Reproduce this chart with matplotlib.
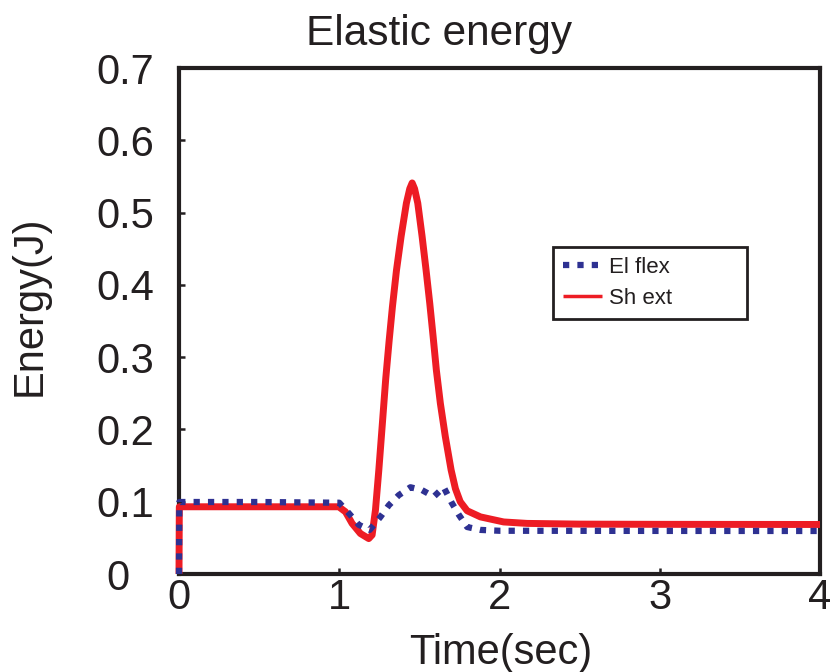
import matplotlib
matplotlib.use('Agg')
import matplotlib.pyplot as plt
from matplotlib.transforms import ScaledTranslation

plt.rcParams['font.family'] = ['Liberation Sans', 'DejaVu Sans']

INK = '#231f20'
RED = '#ed1c24'
BLUE = '#2e3192'

# shoulder extensor energy (J) over time (s)
t_sh = [0.0, 0.002, 0.5, 0.997, 1.039, 1.08, 1.132, 1.184, 1.205, 1.226, 1.247,
        1.268, 1.29, 1.311, 1.332, 1.357, 1.386, 1.419, 1.44, 1.455,
        1.47, 1.49, 1.517, 1.542, 1.565, 1.586, 1.606, 1.631, 1.662, 1.698,
        1.725, 1.755, 1.798, 1.881, 2.026, 2.172, 2.5, 3.0, 4.0]
e_sh = [0.0, 0.093, 0.093, 0.093, 0.086, 0.070, 0.056, 0.049, 0.054, 0.0885, 0.144,
        0.205, 0.27, 0.322, 0.370, 0.420, 0.467, 0.513, 0.533, 0.541,
        0.533, 0.513, 0.467, 0.420, 0.374, 0.328, 0.282, 0.236, 0.190, 0.144,
        0.118, 0.100, 0.0875, 0.079, 0.072, 0.070, 0.069, 0.0687, 0.0685]

# elbow flexor energy (J) over time (s)
t_el = [0.0, 0.002, 0.5, 1.0, 1.06, 1.122, 1.19, 1.257, 1.309, 1.371, 1.444,
        1.517, 1.59, 1.652, 1.698, 1.746, 1.798, 1.881, 2.0, 3.0, 4.0]
e_el = [0.0, 0.0996, 0.0996, 0.0986, 0.084, 0.068, 0.061, 0.079, 0.095, 0.109, 0.120,
        0.116, 0.107, 0.120, 0.100, 0.082, 0.065, 0.061, 0.0598, 0.0596, 0.0595]

xticks = [0, 1, 2, 3, 4]
yticks = [0, 0.1, 0.2, 0.3, 0.4, 0.5, 0.6, 0.7]
ytick_labels = ['0', '0.1', '0.2', '0.3', '0.4', '0.5', '0.6', '0.7']

fig = plt.figure(figsize=(8.4, 6.72), dpi=100)
ax = fig.add_axes([179 / 840, 1 - 574 / 672, 641 / 840, 506 / 672])

# lines sit above the spines so the jump at t=0 stays visible
l_sh, = ax.plot(t_sh, e_sh, color=RED, lw=5, solid_joinstyle='round',
                solid_capstyle='butt', label='Sh ext', clip_on=False, zorder=3)
l_el, = ax.plot(t_el, e_el, color=BLUE, lw=4.5, linestyle=(0, (1, 1.3)),
                label='El flex', clip_on=False, zorder=4)

ax.set_xlim(0, 4)
ax.set_ylim(0, 0.7)
ax.set_xticks(xticks)
ax.set_xticklabels([str(x) for x in xticks])
ax.set_yticks(yticks)
ax.set_yticklabels(ytick_labels)

for s in ax.spines.values():
    s.set_linewidth(3)
    s.set_color(INK)
ax.tick_params(direction='in', length=4.5, width=1.8, color=INK,
               labelsize=30, labelcolor=INK)
ax.tick_params(axis='y', pad=18)
ax.tick_params(axis='x', pad=3)

# the zero label on the y axis sits further left than the others
lab0 = ax.yaxis.get_major_ticks()[0].label1
lab0.set_transform(lab0.get_transform() + ScaledTranslation(-0.24, 0, fig.dpi_scale_trans))

leg = ax.legend(handles=[l_el, l_sh], loc='upper left',
                bbox_to_anchor=(0.5835, 0.0, 0.3025, 0.647), mode='expand',
                borderaxespad=0, fontsize=16, handlelength=1.75,
                handletextpad=0.3, labelspacing=0.45, borderpad=0.45,
                fancybox=False, framealpha=1)
leg.get_frame().set_edgecolor(INK)
leg.get_frame().set_linewidth(2)
for txt in leg.get_texts():
    txt.set_color(INK)
leg.legend_handles[0].set_linewidth(4.5)
leg.legend_handles[1].set_linewidth(2.5)

fig.text(439 / 840, 1 - 45 / 672, 'Elastic energy', ha='center', va='baseline',
         fontsize=30.5, color=INK)
fig.text(501 / 840, 1 - 664 / 672, 'Time(sec)', ha='center', va='baseline',
         fontsize=30, color=INK)
fig.text(30 / 840, 1 - 306 / 672, 'Energy(J)', rotation=90, ha='center',
         va='center', fontsize=30, color=INK)

fig.savefig('out.png', dpi=100)
